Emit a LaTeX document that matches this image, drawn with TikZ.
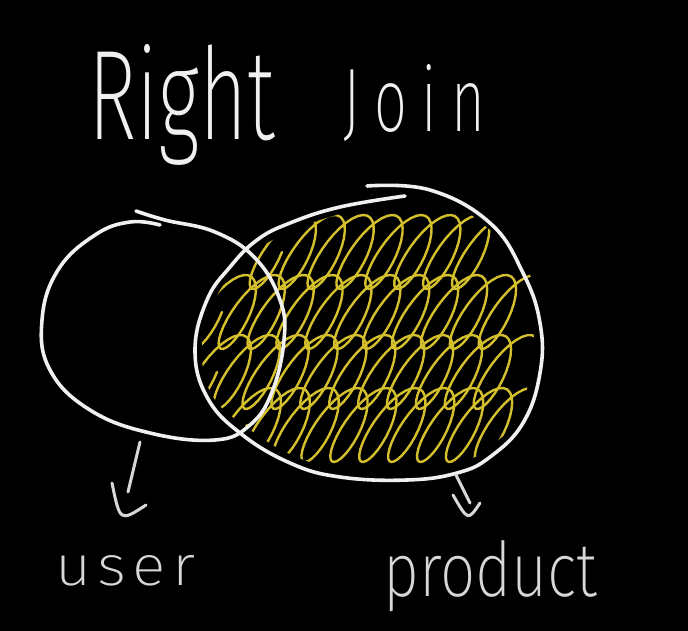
\documentclass[tikz,border=0pt]{standalone}
\usepackage{fontspec}
\usepackage{tikz}
\usetikzlibrary{calc}
\newfontfamily\handfont{Fira Sans ExtraLight}
\newfontfamily\handfontancha{Fira Sans ExtraLight}[LetterSpace=25]
\newfontfamily\handfontmedia{Fira Sans ExtraLight}[LetterSpace=10]
\definecolor{tiza}{RGB}{240,240,240}
\definecolor{gris}{RGB}{215,215,215}
\definecolor{amarillo}{RGB}{212,192,44}
\tikzset{
  contorno/.style={tiza, line width=3.6pt, line cap=round, line join=round},
  garabato/.style={amarillo, line width=2.4pt, line cap=round},
  flecha/.style={gris, line width=3pt, line cap=round, line join=round},
  rotulo/.style={anchor=base west, inner sep=0pt}
}

\begin{document}
\begin{tikzpicture}[x=1pt, y=-1pt]
  % Fondo
  \fill[black] (0,0) rectangle (688,631);
  \useasboundingbox (0,0) rectangle (688,631);

  % Titulo
  \node[rotulo, tiza] (titulo1) at (88,140) {\resizebox{187pt}{95pt}{\handfont Right}};
  \node[rotulo, tiza] (titulo2) at (343,132) {\resizebox{142pt}{67pt}{\handfontancha Join}};

  % Relleno de la interseccion y la tabla derecha
  \begin{scope}
    \clip plot[smooth cycle, tension=0.7] coordinates {
      (430,198) (490,230) (530,275) (534,323) (530,373) (516,420)
      (485,450) (455,465) (407,470) (340,468) (292,455) (245,426)
      (212,395) (202,350) (213,302) (260,248) (340,214)};
    \foreach \yc/\xa/\n [evaluate=\n as \ns using int(\n*30),
                         evaluate=\n as \tmax using \n*2*pi]
      in {252/265/8, 312/205/11, 372/200/11, 425/230/10}
      \draw[garabato] plot[domain=0:\tmax, samples=\ns, variable=\t]
        ({\xa+4.6*\t+17*cos(\t r)-19*sin(\t r)}, {\yc+37*sin(\t r)});
  \end{scope}

  % Tabla izquierda (user)
  \draw[contorno] plot[smooth, tension=0.7] coordinates {
    (136,211) (165,220) (215,232) (255,258) (280,300) (284,340)
    (272,392) (250,425) (215,440) (150,433) (90,410) (50,370)
    (42,320) (58,270) (95,235) (130,222) (160,225)};

  % Tabla derecha (product)
  \draw[contorno] plot[smooth, tension=0.7] coordinates {
    (367,186) (430,190) (490,223) (523,273) (540,323) (540,373)
    (523,423) (490,457) (457,473) (407,480) (340,477) (290,463)
    (240,433) (207,397) (195,350) (207,300) (230,267) (257,240)
    (290,223) (340,207) (405,196)};

  % Etiquetas
  \node[rotulo, gris] (user) at (55,585) {\resizebox{140pt}{30pt}{\handfontmedia user}};
  \node[rotulo, gris] (product) at (383,596) {\resizebox{214pt}{56pt}{\handfont product}};

  % Flechas
  \coordinate (u1) at (140,442);
  \coordinate (u2) at (128,492);
  \coordinate (p1) at (456,475);
  \coordinate (p2) at (470,503);
  \draw[flecha] (u1) -- (u2);
  \draw[flecha] ($(u2)+(-16,-9)$) .. controls ($(u2)+(-8,30)$) .. ($(u2)+(18,13)$);
  \draw[flecha] (p1) -- (p2);
  \draw[flecha] ($(p2)+(-17,-8)$) .. controls ($(p2)+(-2,18)$) .. ($(p2)+(10,0)$);
\end{tikzpicture}
\end{document}
